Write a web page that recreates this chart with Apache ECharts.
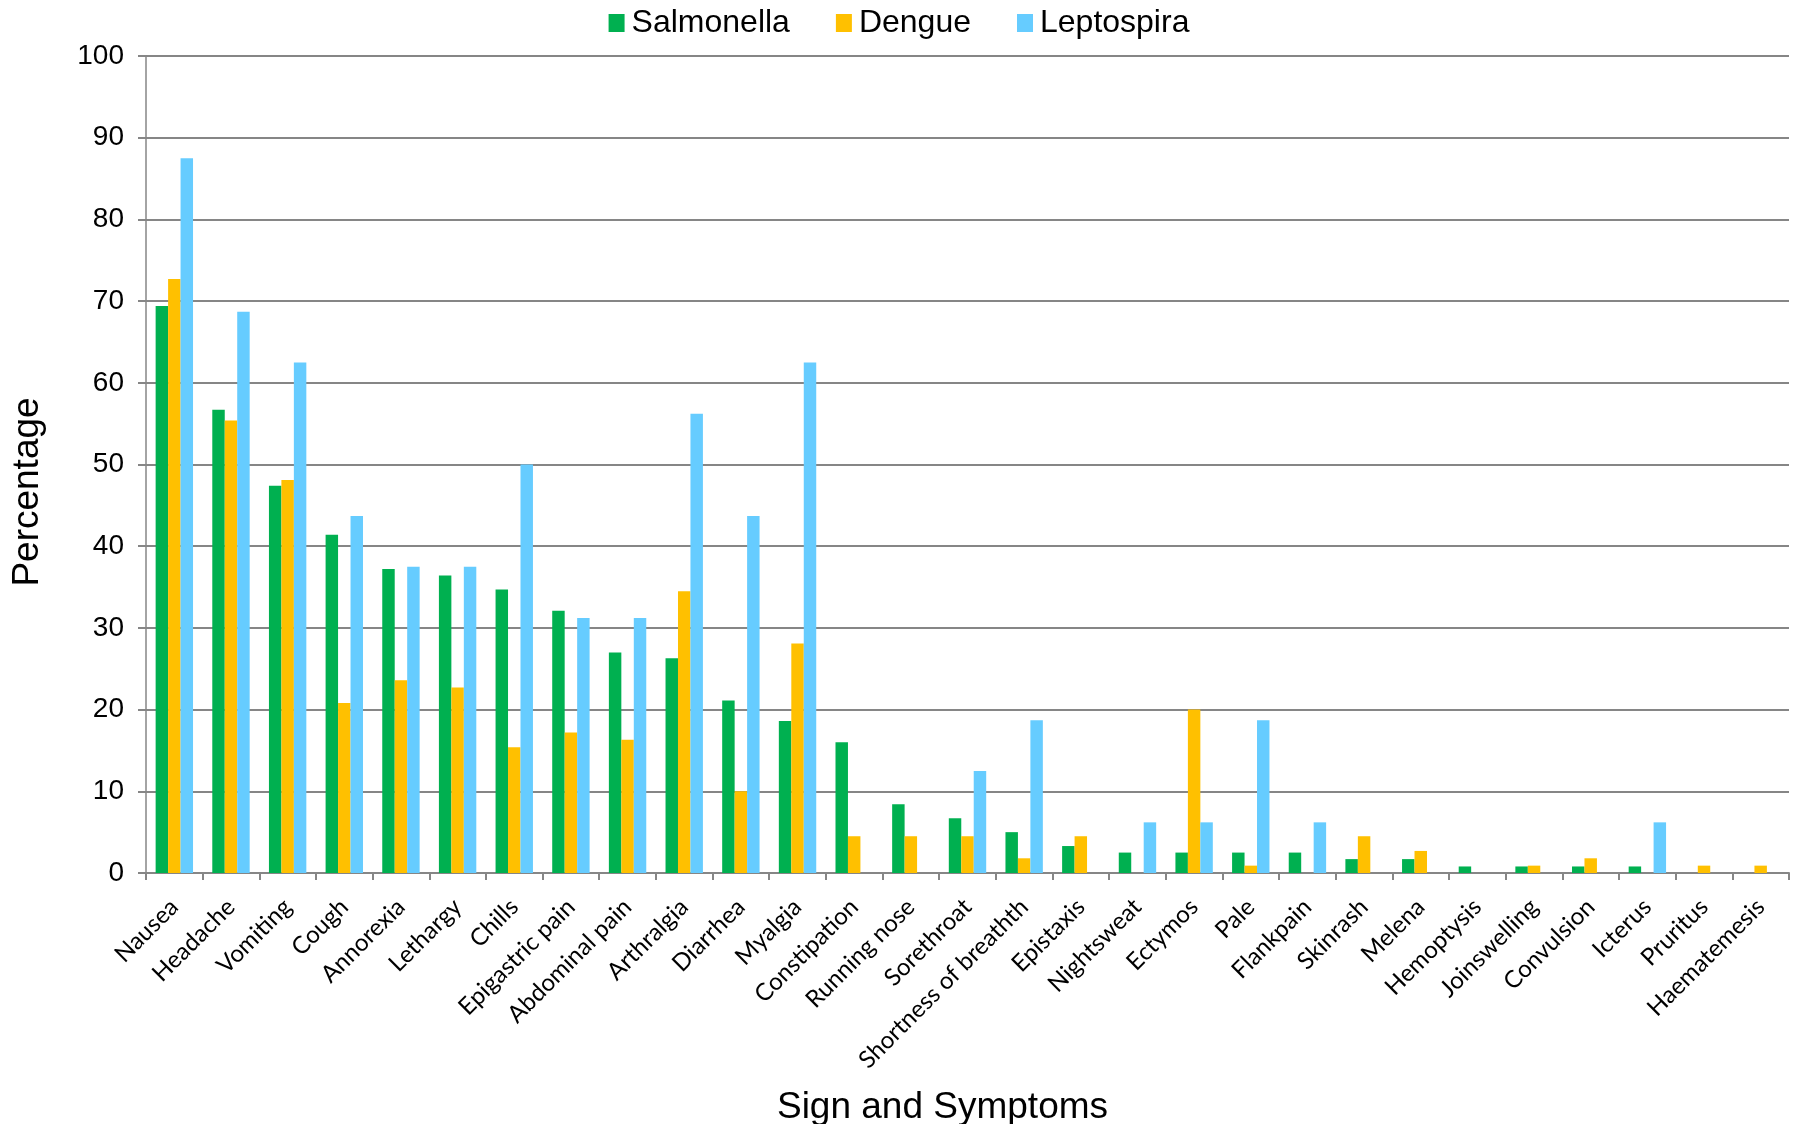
<!DOCTYPE html>
<html>
<head>
<meta charset="utf-8">
<title>Sign and Symptoms</title>
<script src="https://cdn.jsdelivr.net/npm/echarts@6/dist/echarts.min.js"></script>
<style>
    html, body { margin: 0; padding: 0; background: #fff; }
    #chart { width: 1798px; height: 1124px; }
</style>
</head>
<body>
<div id="chart"></div>
<script>
    // categories on the x axis
    var symptoms = ['Nausea', 'Headache', 'Vomiting', 'Cough', 'Annorexia', 'Lethargy', 'Chills',
        'Epigastric pain', 'Abdominal pain', 'Arthralgia', 'Diarrhea', 'Myalgia', 'Constipation',
        'Running nose', 'Sorethroat', 'Shortness of breathth', 'Epistaxis', 'Nightsweat', 'Ectymos',
        'Pale', 'Flankpain', 'Skinrash', 'Melena', 'Hemoptysis', 'Joinswelling', 'Convulsion',
        'Icterus', 'Pruritus', 'Haematemesis'];

    // percentages
    var salmonella = [69.4, 56.7, 47.4, 41.4, 37.2, 36.4, 34.7, 32.1, 27.0, 26.3, 21.1, 18.6, 16.0,
        8.4, 6.7, 5.0, 3.3, 2.5, 2.5, 2.5, 2.5, 1.7, 1.7, 0.8, 0.8, 0.8, 0.8, 0, 0];
    var dengue = [72.7, 55.4, 48.1, 20.8, 23.6, 22.7, 15.4, 17.2, 16.3, 34.5, 10.0, 28.1, 4.5,
        4.5, 4.5, 1.8, 4.5, 0, 20.0, 0.9, 0, 4.5, 2.7, 0, 0.9, 1.8, 0, 0.9, 0.9];
    var leptospira = [87.5, 68.7, 62.5, 43.7, 37.5, 37.5, 50.0, 31.2, 31.2, 56.2, 43.7, 62.5, 0,
        0, 12.5, 18.7, 0, 6.2, 6.2, 18.7, 6.2, 0, 0, 0, 0, 0, 6.2, 0, 0];

    var chart = echarts.init(document.getElementById('chart'));
    var gridColor = '#868686';

    var option = {
        backgroundColor: '#fff',
        animation: false,
        textStyle: { fontFamily: 'Liberation Sans, Arial, sans-serif' },
        legend: {
            top: 2,
            left: 'center',
            itemWidth: 16,
            itemHeight: 18,
            itemGap: 46,
            icon: 'rect',
            textStyle: { fontSize: 32, color: '#000', padding: [0, 0, 0, 2] },
            data: ['Salmonella', 'Dengue', 'Leptospira']
        },
        grid: { left: 146, right: 9, top: 56, bottom: 251, outerBoundsMode: 'none' },
        xAxis: {
            type: 'category',
            data: symptoms,
            name: 'Sign and Symptoms',
            nameLocation: 'middle',
            nameGap: 216,
            nameTextStyle: { fontSize: 37, color: '#000', padding: [0, 50, 0, 0] },
            axisLine: { lineStyle: { color: gridColor, width: 2 } },
            axisTick: { show: true, length: 7, lineStyle: { color: gridColor, width: 2 } },
            axisLabel: {
                rotate: 45,
                interval: 0,
                margin: 30,
                fontSize: 24,
                color: '#000',
                fontFamily: 'Lato, Open Sans, sans-serif'
            }
        },
        yAxis: {
            type: 'value',
            min: 0,
            max: 100,
            interval: 10,
            name: 'Percentage',
            nameLocation: 'middle',
            nameGap: 100,
            nameTextStyle: { fontSize: 37, color: '#000', padding: [0, 0, 0, -55] },
            axisLine: { show: true, lineStyle: { color: gridColor, width: 1.5 } },
            axisTick: { show: true, length: 8, lineStyle: { color: gridColor, width: 2 } },
            axisLabel: { fontSize: 28, color: '#000', margin: 22 },
            splitLine: { lineStyle: { color: gridColor, width: 2 } }
        },
        series: [
            {
                name: 'Salmonella',
                type: 'bar',
                data: salmonella,
                barGap: '0%',
                barCategoryGap: '34%',
                itemStyle: { color: '#00B050' }
            },
            {
                name: 'Dengue',
                type: 'bar',
                data: dengue,
                barGap: '0%',
                barCategoryGap: '34%',
                itemStyle: { color: '#FFC000' }
            },
            {
                name: 'Leptospira',
                type: 'bar',
                data: leptospira,
                barGap: '0%',
                barCategoryGap: '34%',
                itemStyle: { color: '#66CCFF' }
            }
        ]
    };
    chart.setOption(option);
</script>
</body>
</html>
